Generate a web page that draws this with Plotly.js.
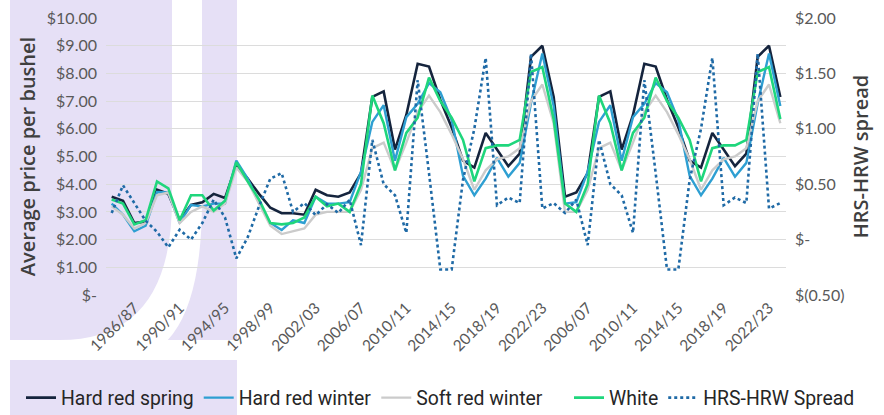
<!DOCTYPE html>
<html><head><meta charset="utf-8">
<script src="https://cdn.plot.ly/plotly-3.0.1.min.js"></script>
<style>html,body{margin:0;padding:0;background:#fff}#chart{width:884px;height:415px}</style>
</head><body><div id="chart"></div>
<script>
const categories = [
"1984/85","1985/86","1986/87","1987/88","1988/89","1989/90","1990/91","1991/92","1992/93","1993/94",
"1994/95","1995/96","1996/97","1997/98","1998/99","1999/00","2000/01","2001/02","2002/03","2003/04",
"2004/05","2005/06","2006/07","2007/08","2008/09","2009/10","2010/11","2011/12","2012/13","2013/14",
"2014/15","2015/16","2016/17","2017/18","2018/19","2019/20","2020/21","2021/22","2022/23","2023/24",
"2004/05","2005/06","2006/07","2007/08","2008/09","2009/10","2010/11","2011/12","2012/13","2013/14",
"2014/15","2015/16","2016/17","2017/18","2018/19","2019/20","2020/21","2021/22","2022/23","2023/24"];

const hardRedSpring = [
3.55,3.40,2.60,2.65,3.80,3.65,2.70,3.25,3.35,3.65,
3.50,4.70,4.20,3.65,3.15,2.95,2.95,2.90,3.80,3.60,
3.55,3.70,4.40,7.15,7.35,5.25,6.50,8.35,8.25,7.05,
6.05,4.85,4.60,5.85,5.25,4.65,5.10,8.60,9.00,7.15,
3.55,3.70,4.40,7.15,7.35,5.25,6.50,8.35,8.25,7.05,
6.05,4.85,4.60,5.85,5.25,4.65,5.10,8.60,9.00,7.15];

const hardRedWinter = [
3.30,2.90,2.30,2.50,3.72,3.70,2.60,3.25,3.20,3.30,
3.30,4.85,4.20,3.35,2.60,2.35,2.70,2.60,3.55,3.30,
3.30,3.35,4.45,6.25,6.85,4.85,6.42,6.90,7.65,7.32,
6.32,4.30,3.60,4.20,4.95,4.27,4.77,6.92,8.72,6.82,
3.30,3.35,4.45,6.25,6.85,4.85,6.42,6.90,7.65,7.32,
6.32,4.30,3.60,4.20,4.95,4.27,4.77,6.92,8.72,6.82];

const softRedWinter = [
3.20,2.90,2.40,2.60,3.60,3.70,2.60,3.00,3.20,3.00,
3.30,4.60,4.10,3.30,2.50,2.20,2.30,2.40,2.90,3.00,
3.00,3.00,3.80,5.30,5.50,4.50,5.50,6.60,7.20,6.60,
5.80,4.90,3.80,4.50,4.90,5.00,5.30,7.00,7.60,6.20,
3.00,3.00,3.80,5.30,5.50,4.50,5.50,6.60,7.20,6.60,
5.80,4.90,3.80,4.50,4.90,5.00,5.30,7.00,7.60,6.20];

const white = [
3.45,3.30,2.55,2.70,4.10,3.85,2.70,3.60,3.60,3.05,
3.40,4.80,4.10,3.45,2.60,2.55,2.60,2.80,3.55,3.20,
3.30,3.00,4.00,7.20,6.20,4.50,5.85,6.40,7.85,7.00,
6.40,5.60,4.10,5.30,5.40,5.40,5.60,8.05,8.23,6.35,
3.30,3.00,4.00,7.20,6.20,4.50,5.85,6.40,7.85,7.00,
6.40,5.60,4.10,5.30,5.40,5.40,5.60,8.05,8.23,6.35];

const hrsHrwSpread = [
0.24,0.49,0.33,0.17,0.07,-0.07,0.09,0.00,0.15,0.36,
0.20,-0.17,0.02,0.30,0.55,0.60,0.25,0.33,0.22,0.32,
0.24,0.36,-0.05,0.90,0.50,0.40,0.06,1.44,0.60,-0.27,
-0.27,0.54,1.00,1.64,0.31,0.38,0.33,1.68,0.28,0.33,
0.24,0.36,-0.05,0.90,0.50,0.40,0.06,1.44,0.60,-0.27,
-0.27,0.54,1.00,1.64,0.31,0.38,0.33,1.68,0.28,0.33];

const priceTickVals = [0,1,2,3,4,5,6,7,8,9,10];
const priceTickText = ["$-","$1.00","$2.00","$3.00","$4.00","$5.00","$6.00","$7.00","$8.00","$9.00","$10.00"];
const spreadTickVals = [-0.5,0,0.5,1,1.5,2];
const spreadTickText = ["$(0.50)","$-","$0.50","$1.00","$1.50","$2.00"];

const xIdx = categories.map((c, i) => i);
const tickIdx = xIdx.filter(i => i % 4 === 2);
const tickLabels = tickIdx.map(i => categories[i]);

function tr(name, y, color, width, dash, axis, leg) {
  return {x: xIdx, y: y, name: name, type: 'scatter', mode: 'lines',
    line: {color: color, width: width, dash: dash || 'solid'}, yaxis: axis || 'y',
    legend: leg || 'legend', hoverinfo: 'skip'};
}
const traces = [
  tr('Hard red spring', hardRedSpring, '#15243d', 2.6),
  tr('Hard red winter', hardRedWinter, '#2e9fd2', 2.4),
  tr('Soft red winter', softRedWinter, '#cbcbcb', 2.4),
  tr('White', white, '#1fd67c', 2.6, 'solid', 'y', 'legend2'),
  tr('HRS-HRW Spread', hrsHrwSpread, '#1f6aa6', 2.6, 'dot', 'y2', 'legend2')
];

// watermark (pixel -> paper coordinates of the plot area)
const W = 884, H = 415;
const L = 106, R = 786, T = 18, B = 295;
const px = x => (x - L) / (R - L);
const py = y => (B - y) / (B - T);
const P = (x, y) => px(x) + ' ' + py(y);
const lav = '#e6e0f6';
const shapes = [
  {type:'rect', xref:'paper', yref:'paper', x0:px(10), x1:px(237), y0:py(0), y1:py(340), fillcolor:lav, line:{width:0}, layer:'below'},
  {type:'rect', xref:'paper', yref:'paper', x0:px(10), x1:px(237), y0:py(360), y1:py(415), fillcolor:lav, line:{width:0}, layer:'below'},
  {type:'path', xref:'paper', yref:'paper', layer:'below', fillcolor:'#ffffff', line:{width:0},
   path: 'M ' + P(172, 0) + ' L ' + P(202, 0) + ' L ' + P(202, 200) +
         ' Q ' + P(202, 360) + ' ' + P(120, 360) +
         ' L ' + P(60, 360) + ' L ' + P(60, 340) +
         ' Q ' + P(172, 340) + ' ' + P(172, 200) + ' Z'}
];

const legFont = {family: 'Roboto, sans-serif', size: 19.4, color: '#262626'};
const titleFont = {family: 'Open Sans, sans-serif', size: 20, color: '#3f3f3f', weight: 600};
const layout = {
  width: W, height: H,
  margin: {l: L, r: W - R, t: T, b: H - B},
  paper_bgcolor: '#ffffff', plot_bgcolor: 'rgba(0,0,0,0)',
  showlegend: true,
  legend: {orientation: 'h', xref: 'container', yref: 'container', x: 21 / W, y: 1 - 398 / H,
    xanchor: 'left', yanchor: 'middle', bgcolor: 'rgba(0,0,0,0)', font: legFont},
  legend2: {orientation: 'h', xref: 'container', yref: 'container', x: 569 / W, y: 1 - 398 / H,
    xanchor: 'left', yanchor: 'middle', bgcolor: 'rgba(0,0,0,0)', font: legFont},
  xaxis: {range: [-0.5, 59.5], tickvals: tickIdx, ticktext: tickLabels, tickangle: -45,
    showgrid: false, zeroline: false, showline: false, ticks: '',
    tickfont: {family: 'Lato, sans-serif', size: 15.5, color: '#595959'}, fixedrange: true},
  yaxis: {range: [0, 10], tickvals: priceTickVals, ticktext: priceTickText,
    showgrid: true, gridcolor: '#dcdcdc', gridwidth: 1, zeroline: false, showline: false, ticks: '',
    ticklabelstandoff: 8,
    tickfont: {family: 'Lato, sans-serif', size: 16, color: '#595959'},
    title: {text: 'Average price per bushel', standoff: 5, font: titleFont}},
  yaxis2: {range: [-0.5, 2], overlaying: 'y', side: 'right', tickvals: spreadTickVals, ticktext: spreadTickText,
    showgrid: false, zeroline: false, showline: false, ticks: '', ticklabelstandoff: 8,
    tickfont: {family: 'Lato, sans-serif', size: 16, color: '#595959'},
    title: {text: 'HRS-HRW spread', standoff: 10, font: titleFont}},
  shapes: shapes
};
Plotly.newPlot('chart', traces, layout, {displayModeBar: false, staticPlot: true});
</script></body></html>
